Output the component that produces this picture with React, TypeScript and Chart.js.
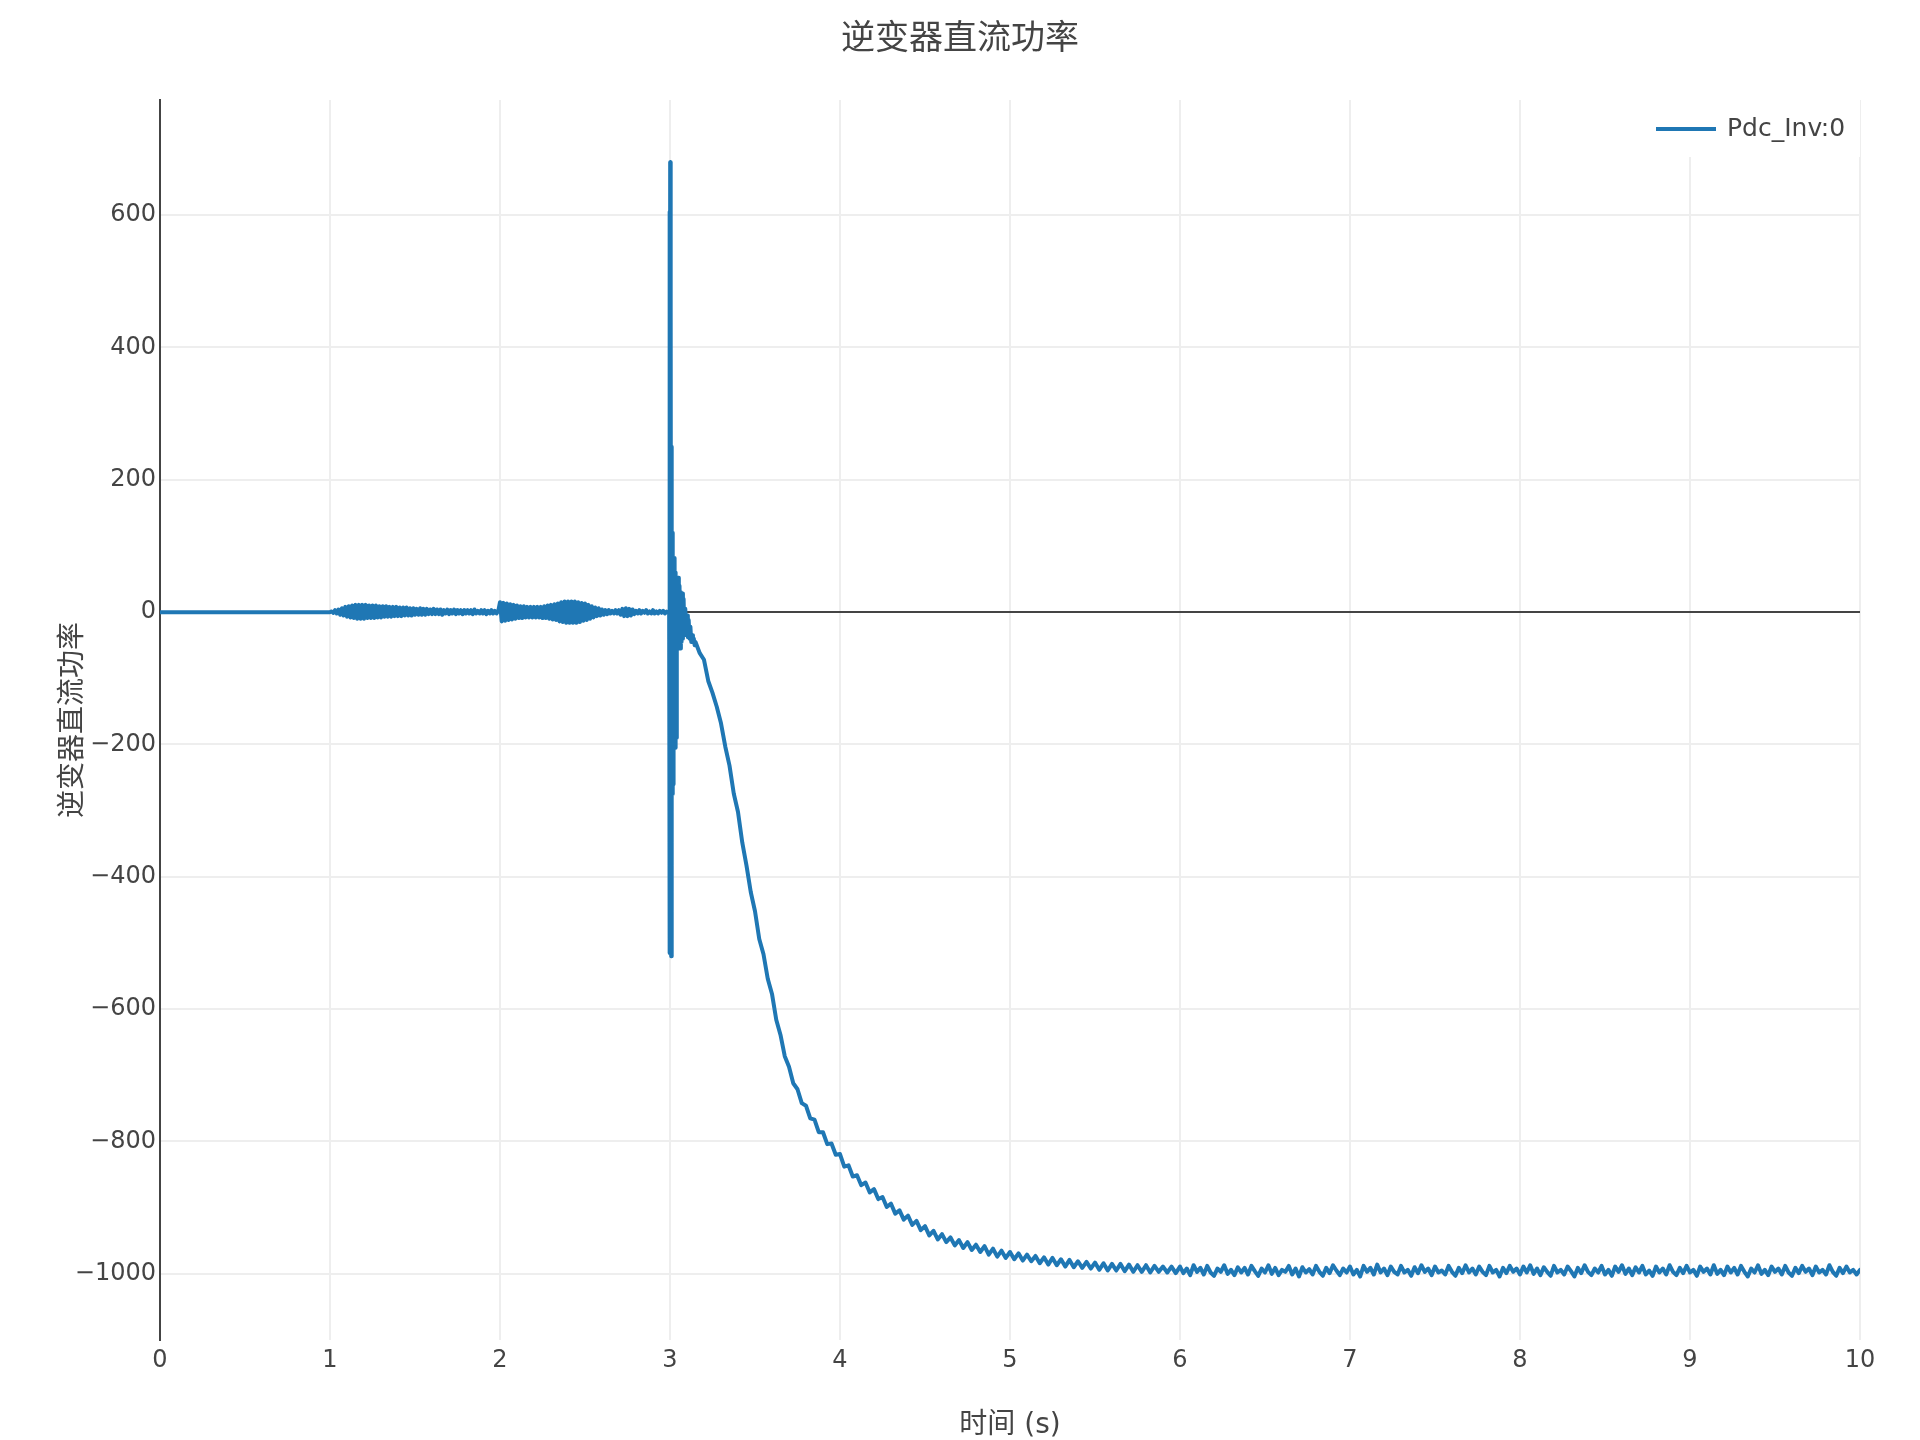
import React, { useEffect, useRef } from 'react';
import { Chart, registerables } from 'chart.js';

Chart.register(...registerables);

const FONT = '"DejaVu Sans", "Noto Sans CJK SC", sans-serif';
const TITLE = '逆变器直流功率';
const X_TITLE = '时间 (s)';
const Y_TITLE = '逆变器直流功率';
const SERIES_LABEL = 'Pdc_Inv:0';
const SERIES_COLOR = '#1f77b4';

const X_TICKS = [0, 1, 2, 3, 4, 5, 6, 7, 8, 9, 10];
const Y_TICKS = [-1000, -800, -600, -400, -200, 0, 200, 400, 600];
const X_RANGE = [0, 10];
const Y_RANGE = [-1100, 774];

// 0 – 1 s : flat
const PRE_TIME = [0, 0.5, 0.99];
const PRE_VALUE = [0, 0, 0];

// 1 – 2 s : first oscillation burst (sample step 0.01 s)
const OSC1_START = 1.0;
const OSC1_STEP = 0.01;
const OSC1_VALUE = [
  0, 1, -1, 3, -2, 4, -4, 6, -5, 8,
  -7, 9, -8, 10, -9, 11, -10, 11, -10, 11,
  -10, 11, -9, 10, -9, 10, -9, 10, -8, 9,
  -8, 9, -7, 9, -7, 8, -7, 8, -6, 8,
  -6, 7, -6, 7, -5, 7, -5, 6, -5, 6,
  -4, 5, -4, 6, -4, 5, -4, 5, -3, 4,
  -3, 5, -3, 4, -3, 4, -4, 3, -2, 4,
  -3, 3, -2, 4, -3, 3, -2, 3, -3, 3,
  -2, 3, -2, 3, -3, 4, -2, 2, -2, 3,
  -2, 3, -3, 2, -2, 3, -2, 2, -2, 2,
];

// 2 – 3 s : second oscillation burst (sample step 0.01 s)
const OSC2_START = 2.0;
const OSC2_STEP = 0.01;
const OSC2_VALUE = [
  15, -14, 14, -13, 13, -12, 12, -11, 11, -10,
  10, -9, 9, -9, 9, -8, 8, -8, 8, -8,
  8, -8, 8, -8, 8, -9, 9, -9, 10, -10,
  11, -11, 12, -12, 13, -14, 15, -15, 16, -16,
  16, -16, 16, -16, 16, -16, 15, -15, 14, -13,
  13, -12, 11, -10, 9, -8, 7, -6, 6, -5,
  4, -4, 3, -3, 3, -2, 2, -2, 3, -2,
  3, -4, 5, -6, 6, -6, 5, -5, 4, -3,
  2, -2, 3, -2, 2, -1, 3, -2, 1, -2,
  3, -2, 1, -2, 2, -1, 2, -2, 1, -1,
];

// 3.0 s : fault transient
const SPIKE_TIME = [
  2.995, 2.997, 2.999, 3.001, 3.003, 3.005, 3.007, 3.009, 3.011, 3.013,
  3.015, 3.017, 3.019, 3.021, 3.024, 3.027, 3.030, 3.033, 3.036, 3.040,
  3.044, 3.048, 3.052, 3.056, 3.060, 3.064, 3.068, 3.072, 3.076, 3.080,
  3.085, 3.090, 3.095, 3.100, 3.105, 3.110, 3.115, 3.120, 3.125, 3.130,
  3.135, 3.140, 3.145,
];
const SPIKE_VALUE = [
  0, 605, -515, 680, -500, 460, -520, 250, -200, 120,
  -275, 80, -260, 75, -150, 82, -205, 60, -190, 50,
  -55, 52, -50, 40, -55, 30, -45, 28, -40, 20,
  -35, 5, -30, -5, -38, -12, -40, -22, -45, -35,
  -42, -40, -50,
];

// 3.15 – 6 s : decay (sample step 0.025 s)
const DECAY_START = 3.15;
const DECAY_STEP = 0.025;
const DECAY_VALUE = [
  -45, -62, -72, -104, -122, -143, -168, -203, -232, -274,
  -302, -348, -383, -423, -452, -494, -517, -554, -577, -616,
  -639, -671, -687, -712, -721, -742, -746, -765, -767, -786,
  -786, -804, -803, -820, -819, -838, -836, -853, -851, -866,
  -862, -877, -872, -887, -884, -899, -894, -909, -904, -918,
  -912, -926, -920, -934, -928, -942, -935, -948, -940, -952,
  -945, -957, -949, -961, -952, -964, -956, -967, -958, -971,
  -962, -974, -965, -976, -967, -978, -969, -980, -971, -981,
  -973, -984, -975, -986, -976, -987, -978, -989, -979, -990,
  -981, -991, -982, -992, -983, -994, -984, -995, -985, -995,
  -985, -996, -986, -997, -987, -997, -987, -998, -988, -997,
  -989, -998, -989, -999,
];

// 6 – 10 s : steady state (sample step 0.02 s)
const STEADY_START = 6.0;
const STEADY_STEP = 0.02;
const STEADY_VALUE = [
  -989, -999, -992, -1002, -987, -997, -991, -1001, -988, -998, -1003, -992, -997, -987, -1000, -994, -1002, -990, -998, -991,
  -1001, -988, -996, -1003, -992, -998, -987, -1000, -991, -1002, -994, -997, -988, -1001, -992, -1004, -990, -998, -993, -1001,
  -988, -997, -1003, -991, -999, -987, -995, -1002, -992, -998, -989, -1001, -994, -1004, -988, -997, -991, -1001, -986, -998,
  -992, -1002, -989, -997, -1001, -988, -998, -994, -1003, -990, -999, -987, -997, -992, -1002, -989, -998, -995, -1001, -988,
  -997, -1003, -991, -999, -987, -998, -992, -1001, -989, -997, -1002, -988, -998, -994, -1004, -991, -999, -988, -997, -992,
  -1001, -989, -998, -987, -1000, -992, -1002, -990, -997, -1003, -988, -998, -994, -1001, -989, -996, -1004, -991, -999, -987,
  -997, -1002, -992, -998, -988, -1001, -994, -1003, -989, -997, -987, -1000, -992, -1002, -990, -998, -988, -1001, -995, -1003,
  -989, -998, -992, -1001, -987, -997, -1002, -991, -999, -988, -998, -994, -1003, -989, -997, -992, -1001, -987, -1000, -994,
  -1002, -989, -998, -991, -1001, -988, -997, -1004, -992, -998, -987, -1000, -994, -1002, -989, -997, -992, -1001, -988, -998,
  -1003, -991, -999, -988, -997, -992, -1002, -989, -998, -994, -1001, -987, -997, -1003, -991, -999, -989, -998, -994, -1001,
  -994,
];

function buildPoints() {
  const pts: { x: number; y: number }[] = [];
  PRE_TIME.forEach((t, i) => pts.push({ x: t, y: PRE_VALUE[i] }));
  OSC1_VALUE.forEach((v, i) => pts.push({ x: +(OSC1_START + i * OSC1_STEP).toFixed(4), y: v }));
  OSC2_VALUE.forEach((v, i) => pts.push({ x: +(OSC2_START + i * OSC2_STEP).toFixed(4), y: v }));
  SPIKE_TIME.forEach((t, i) => pts.push({ x: t, y: SPIKE_VALUE[i] }));
  DECAY_VALUE.forEach((v, i) => pts.push({ x: +(DECAY_START + i * DECAY_STEP).toFixed(4), y: v }));
  STEADY_VALUE.forEach((v, i) => pts.push({ x: +(STEADY_START + i * STEADY_STEP).toFixed(4), y: v }));
  return pts;
}

const fmt = (v: number | string) => {
  const n = Number(v);
  return n < 0 ? '\u2212' + Math.abs(n) : String(n);
};

const legendPlugin = {
  id: 'insideLegend',
  afterDatasetsDraw(chart: any) {
    const ctx = chart.ctx;
    const ds = chart.data.datasets[0];
    const { right, top } = chart.chartArea;
    ctx.save();
    ctx.fillStyle = '#ffffff';
    ctx.fillRect(right - 215, top, 215, 57);
    ctx.strokeStyle = ds.borderColor;
    ctx.lineWidth = 4;
    ctx.beginPath();
    ctx.moveTo(right - 204, top + 29);
    ctx.lineTo(right - 144, top + 29);
    ctx.stroke();
    ctx.font = '25px ' + FONT;
    ctx.fillStyle = '#444';
    ctx.textBaseline = 'middle';
    ctx.textAlign = 'left';
    ctx.fillText(ds.label, right - 133, top + 29);
    ctx.restore();
  },
};

export default function App() {
  const ref = useRef<HTMLCanvasElement>(null);
  useEffect(() => {
    const chart = new Chart(ref.current as HTMLCanvasElement, {
      type: 'line',
      data: {
        datasets: [
          {
            label: SERIES_LABEL,
            data: buildPoints(),
            borderColor: SERIES_COLOR,
            backgroundColor: SERIES_COLOR,
            borderWidth: 4,
            borderJoinStyle: 'round',
            borderCapStyle: 'round',
            pointRadius: 0,
            tension: 0,
            fill: false,
            yAxisID: 'y',
          },
        ],
      },
      options: {
        responsive: false,
        animation: false,
        devicePixelRatio: 1,
        layout: { padding: 0 },
        plugins: {
          legend: { display: false },
          tooltip: { enabled: false },
          title: {
            display: true,
            text: TITLE,
            color: '#444',
            font: { family: FONT, size: 34, weight: 'normal', lineHeight: 1.2 },
            padding: { top: 20, bottom: 39.2 },
          },
        },
        scales: {
          x: {
            type: 'linear',
            min: X_RANGE[0],
            max: X_RANGE[1],
            afterBuildTicks: (s: any) => {
              s.ticks = X_TICKS.map((v) => ({ value: v }));
            },
            afterFit: (s: any) => {
              s.height = 100;
            },
            grid: { color: '#eeeeee', lineWidth: 2, drawTicks: false },
            border: { display: false },
            ticks: {
              color: '#444',
              font: { family: FONT, size: 24 },
              padding: 6,
              maxRotation: 0,
              autoSkip: false,
              callback: (v: any) => fmt(v),
            },
            title: {
              display: true,
              text: X_TITLE,
              color: '#444',
              font: { family: FONT, size: 28, lineHeight: 1 },
              padding: { top: 0, bottom: 0.6 },
            },
          },
          y: {
            type: 'linear',
            position: 'left',
            min: Y_RANGE[0],
            max: Y_RANGE[1],
            afterBuildTicks: (s: any) => {
              s.ticks = Y_TICKS.map((v) => ({ value: v }));
            },
            afterFit: (s: any) => {
              s.width = 160;
            },
            grid: {
              color: (c: any) => (c.tick && c.tick.value === 0 ? '#444' : '#eeeeee'),
              lineWidth: 2,
              drawTicks: false,
            },
            border: { display: true, color: '#444', width: 2 },
            ticks: {
              color: '#444',
              font: { family: FONT, size: 24 },
              padding: 4,
              callback: (v: any) => fmt(v),
            },
            title: {
              display: true,
              text: Y_TITLE,
              color: '#444',
              font: { family: FONT, size: 28, lineHeight: 1.2 },
              padding: { top: 56.7, bottom: 0 },
            },
          },
          yRightMargin: {
            type: 'linear',
            position: 'right',
            display: true,
            afterFit: (s: any) => {
              s.width = 60;
            },
            ticks: { display: false },
            grid: { display: false, drawOnChartArea: false, drawTicks: false },
            border: { display: false },
            title: { display: false },
          },
        },
      } as any,
      plugins: [legendPlugin],
    });
    return () => chart.destroy();
  }, []);
  return (
    <canvas
      ref={ref}
      width={1920}
      height={1440}
      style={{ position: 'fixed', left: 0, top: 0, width: 1920, height: 1440, display: 'block', background: '#fff' }}
    />
  );
}
